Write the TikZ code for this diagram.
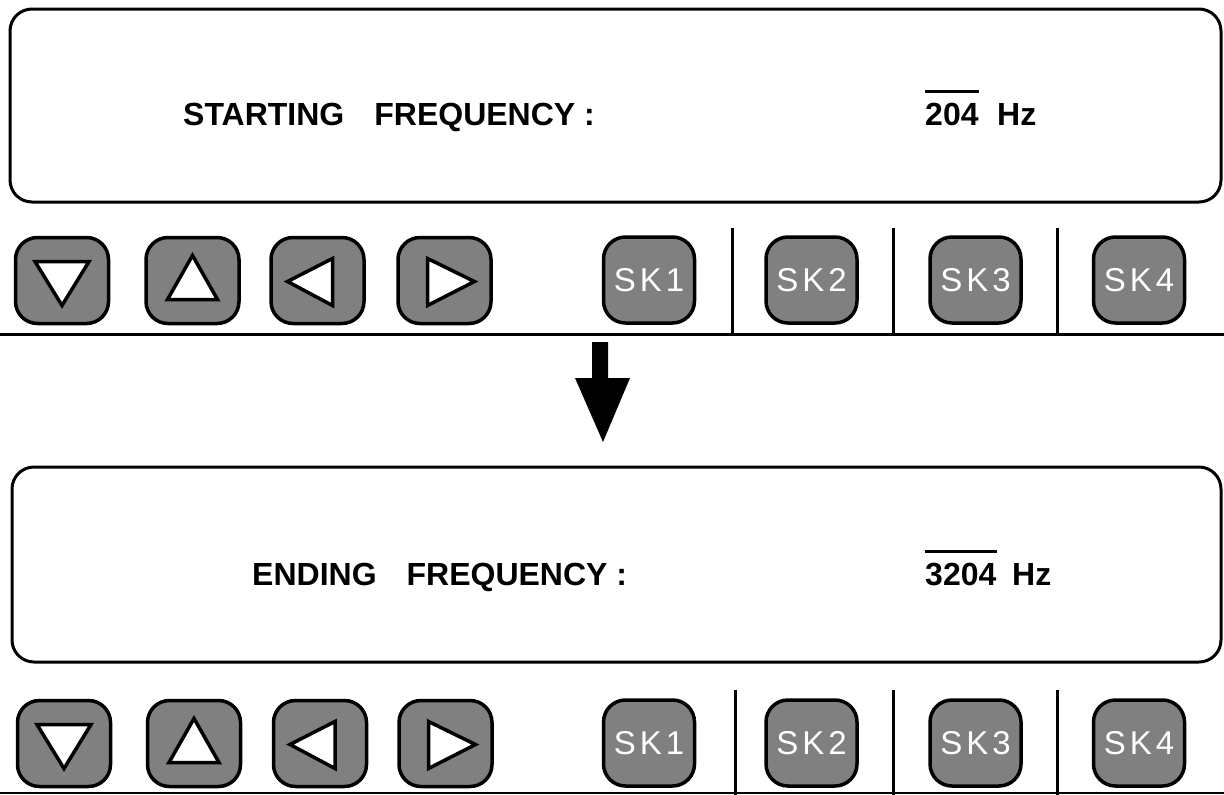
\documentclass[tikz,border=0pt]{standalone}
\usepackage{fontspec}
\setmainfont{Liberation Sans}
\newcommand{\skgap}{\hspace{4pt}}
\begin{document}
\begin{tikzpicture}[x=1pt,y=-1pt,
  panel/.style={draw=black,line width=3pt,rounded corners=22pt},
  key/.style={draw=black,line width=3.5pt,fill=black!50,rounded corners=22pt,minimum width=93pt,minimum height=86pt,inner sep=0pt},
  sk/.style={key,minimum width=91pt,text=white,font=\fontsize{33}{33}\selectfont},
  tri/.style={draw=black,line width=3.5pt,fill=white,line join=miter},
  sep/.style={draw=black,line width=3pt},
  lbl/.style={font=\bfseries\fontsize{32}{32}\selectfont,anchor=base west,inner sep=0pt},
  bar/.style={draw=black,line width=3pt}]
\useasboundingbox (0,0) rectangle (1224,795);
% ---------- top panel ----------
\draw[panel] (10,9) rectangle (1221,202);
\node[lbl] (t1) at (183,125) {STARTING\hspace{30pt}FREQUENCY :};
\node[lbl] (v1) at (925,125) {204};
\node[lbl] (h1) at (997,125) {Hz};
\draw[bar] ([yshift=11pt]v1.north west) -- ([yshift=11pt]v1.north east);
% keys row 1
\node[key] (a1) at (62,280.5) {};
\node[key] (a2) at (192.5,280.5) {};
\node[key] (a3) at (317.5,280.5) {};
\node[key] (a4) at (444.5,280.5) {};
\draw[tri] ([shift={(-27,-19)}]a1.center) -- ([shift={(27,-19)}]a1.center) -- ([shift={(0,25)}]a1.center) -- cycle;
\draw[tri] ([shift={(0,-25)}]a2.center) -- ([shift={(25,19)}]a2.center) -- ([shift={(-25,19)}]a2.center) -- cycle;
\draw[tri] ([shift={(15,-22)}]a3.center) -- ([shift={(15,25)}]a3.center) -- ([shift={(-30,1)}]a3.center) -- cycle;
\draw[tri] ([shift={(-17,-22)}]a4.center) -- ([shift={(-17,25)}]a4.center) -- ([shift={(30,1)}]a4.center) -- cycle;
\node[sk] (s1) at (649,280) {S\skgap K\skgap 1};
\node[sk] (s2) at (811.5,280) {S\skgap K\skgap 2};
\node[sk] (s3) at (975.5,280) {S\skgap K\skgap 3};
\node[sk] (s4) at (1139,280) {S\skgap K\skgap 4};
\coordinate (d1t) at (732,228); \coordinate (d1b) at (732,334);
\coordinate (d2t) at (893,228); \coordinate (d2b) at (893,334);
\coordinate (d3t) at (1057,228); \coordinate (d3b) at (1057,334);
\draw[sep] (d1t) -- (d1b); \draw[sep] (d2t) -- (d2b); \draw[sep] (d3t) -- (d3b);
\coordinate (l1a) at (0,334); \coordinate (l1b) at (1224,334);
\draw[sep] (l1a) -- (l1b);
% ---------- arrow ----------
\fill[black] (592,342) -- (608,342) -- (608,378) -- (630,378) -- (603,442) -- (575,378) -- (592,378) -- cycle;
% ---------- bottom panel ----------
\draw[panel] (12,467) rectangle (1221,662);
\node[lbl] (t2) at (252,585) {ENDING\hspace{30pt}FREQUENCY :};
\node[lbl] (v2) at (925,585) {3204};
\node[lbl] (h2) at (1012,585) {Hz};
\draw[bar] ([yshift=11pt]v2.north west) -- ([yshift=11pt]v2.north east);
% keys row 2
\node[key] (b1) at (64,743.5) {};
\node[key] (b2) at (194,743.5) {};
\node[key] (b3) at (320,743.5) {};
\node[key] (b4) at (445.5,743.5) {};
\draw[tri] ([shift={(-27,-19)}]b1.center) -- ([shift={(27,-19)}]b1.center) -- ([shift={(0,25)}]b1.center) -- cycle;
\draw[tri] ([shift={(0,-25)}]b2.center) -- ([shift={(25,19)}]b2.center) -- ([shift={(-25,19)}]b2.center) -- cycle;
\draw[tri] ([shift={(15,-22)}]b3.center) -- ([shift={(15,25)}]b3.center) -- ([shift={(-30,1)}]b3.center) -- cycle;
\draw[tri] ([shift={(-17,-22)}]b4.center) -- ([shift={(-17,25)}]b4.center) -- ([shift={(30,1)}]b4.center) -- cycle;
\node[sk] (r1) at (649,743) {S\skgap K\skgap 1};
\node[sk] (r2) at (811.5,743) {S\skgap K\skgap 2};
\node[sk] (r3) at (975.5,743) {S\skgap K\skgap 3};
\node[sk] (r4) at (1139,743) {S\skgap K\skgap 4};
\coordinate (e1t) at (735,690); \coordinate (e1b) at (735,795);
\coordinate (e2t) at (893,690); \coordinate (e2b) at (893,795);
\coordinate (e3t) at (1057,690); \coordinate (e3b) at (1057,795);
\draw[sep] (e1t) -- (e1b); \draw[sep] (e2t) -- (e2b); \draw[sep] (e3t) -- (e3b);
\coordinate (l2a) at (0,793); \coordinate (l2b) at (1224,793);
\draw[sep,line width=2pt] (l2a) -- (l2b);
\end{tikzpicture}
\end{document}
